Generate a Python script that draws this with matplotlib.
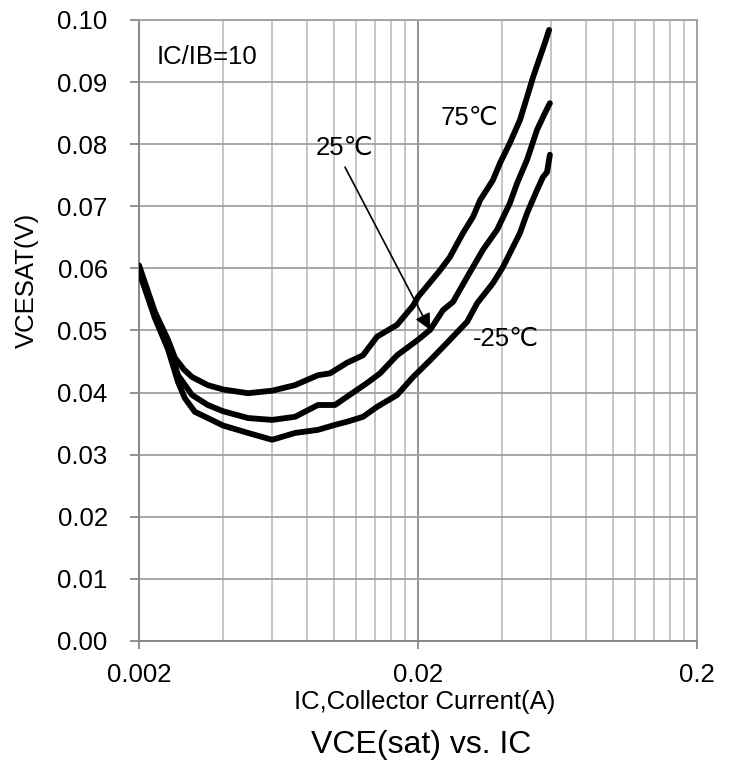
import matplotlib
matplotlib.use("Agg")
import matplotlib.pyplot as plt
from matplotlib.ticker import FixedLocator, FixedFormatter, NullFormatter

plt.rcParams['font.family'] = ['Liberation Sans', 'DejaVu Sans']

# VCE(sat) vs IC, IC/IB = 10
ic_75 = [0.002, 0.00228, 0.00254, 0.00269, 0.0029, 0.0031, 0.00353, 0.004, 0.00492, 0.006,
         0.00725, 0.00876, 0.00968, 0.01113, 0.0127, 0.01426, 0.01682, 0.0192, 0.02, 0.024,
         0.026, 0.029, 0.0315, 0.0334, 0.0371, 0.0394, 0.0427, 0.0464, 0.0492, 0.0517,
         0.0547, 0.057, 0.059]
vce_75 = [0.0605, 0.0530, 0.0485, 0.0456, 0.0437, 0.0425, 0.0412, 0.0405, 0.0399, 0.0403,
          0.0412, 0.0428, 0.0431, 0.0448, 0.0460, 0.0490, 0.0509, 0.0540, 0.0554, 0.0597,
          0.0618, 0.0657, 0.0683, 0.0710, 0.0742, 0.0770, 0.0802, 0.0839, 0.0876, 0.0908,
          0.0940, 0.0963, 0.0984]

ic_25 = [0.002, 0.00228, 0.00254, 0.00276, 0.0031, 0.00353, 0.004, 0.00492, 0.006, 0.00725,
         0.00876, 0.01008, 0.0117, 0.0131, 0.01462, 0.01682, 0.02, 0.0221, 0.0246, 0.0267,
         0.03, 0.0342, 0.0384, 0.0427, 0.0453, 0.0492, 0.0534, 0.057, 0.0594]
vce_25 = [0.0600, 0.0525, 0.0478, 0.0428, 0.0396, 0.0380, 0.0370, 0.0359, 0.0356, 0.0361,
          0.0380, 0.0380, 0.0400, 0.0415, 0.0431, 0.0460, 0.0485, 0.0501, 0.0533, 0.0546,
          0.0586, 0.0630, 0.0662, 0.0705, 0.0737, 0.0775, 0.0823, 0.0850, 0.0866]

ic_m25 = [0.002, 0.00228, 0.00254, 0.00276, 0.00292, 0.00317, 0.00353, 0.004, 0.00492, 0.006,
          0.00725, 0.00876, 0.01008, 0.01113, 0.0127, 0.01426, 0.01682, 0.0192, 0.0221, 0.0254,
          0.03, 0.0326, 0.0371, 0.0403, 0.0464, 0.0492, 0.0534, 0.0561, 0.058, 0.0594]
vce_m25 = [0.0595, 0.0520, 0.0470, 0.0417, 0.0391, 0.0369, 0.0359, 0.0347, 0.0335, 0.0324,
           0.0335, 0.0340, 0.0348, 0.0353, 0.0361, 0.0377, 0.0396, 0.0425, 0.0452, 0.0480,
           0.0514, 0.0544, 0.0576, 0.0602, 0.0657, 0.0689, 0.0726, 0.0747, 0.0755, 0.0783]

x_major = [0.002, 0.02, 0.2]
x_labels = ['0.002', '0.02', '0.2']
x_minor = [0.002 * k for k in range(2, 10)] + [0.02 * k for k in range(2, 10)]
y_ticks = [i / 100 for i in range(11)]

fig = plt.figure(figsize=(7.3, 7.65), dpi=100)
ax = fig.add_axes([0.1904, 0.1621, 0.7644, 0.8118])

for x, y in [(ic_75, vce_75), (ic_25, vce_25), (ic_m25, vce_m25)]:
    ax.plot(x, y, color='black', lw=4.2, solid_capstyle='round', solid_joinstyle='round', zorder=3)

ax.set_xscale('log')
ax.set_xlim(0.002, 0.2)
ax.set_ylim(0, 0.10)

ax.xaxis.set_major_locator(FixedLocator(x_major))
ax.xaxis.set_major_formatter(FixedFormatter(x_labels))
ax.xaxis.set_minor_locator(FixedLocator(x_minor))
ax.xaxis.set_minor_formatter(NullFormatter())
ax.set_yticks(y_ticks)
ax.set_yticklabels(['%.2f' % v for v in y_ticks])

ax.grid(True, which='major', axis='y', color='#a0a0a0', lw=1.3)
ax.grid(True, which='major', axis='x', color='#8c8c8c', lw=1.3)
ax.grid(True, which='minor', axis='x', color='#c0c0c0', lw=1.3)
ax.set_axisbelow(True)

for s in ['left', 'bottom']:
    ax.spines[s].set_color('#888888')
    ax.spines[s].set_linewidth(1.4)
for s in ['top', 'right']:
    ax.spines[s].set_color('#a0a0a0')
    ax.spines[s].set_linewidth(1.3)

ax.tick_params(axis='y', which='major', length=6.5, width=1.3, color='#888888', pad=16, labelsize=18.5)
ax.tick_params(axis='x', which='major', length=6, width=1.3, color='#888888', pad=10, labelsize=18.5)
ax.tick_params(axis='x', which='minor', length=0)

ax.set_ylabel('VCESAT(V)', fontsize=18.5, va='center')
ax.yaxis.set_label_coords(-0.20, 0.58)
ax.set_xlabel('IC,Collector Current(A)', fontsize=18.5, va='center')
ax.xaxis.set_label_coords(0.5125, -0.098)

ax.text(0.00232, 0.094, 'IC/IB=10', fontsize=18.5, ha='left', va='center')
ax.text(0.0307, 0.0842, '75\u2103', fontsize=18.5, ha='center', va='center')
ax.text(0.01086, 0.0794, '25\u2103', fontsize=18.5, ha='center', va='center')
ax.text(0.0413, 0.0486, '-25\u2103', fontsize=18.5, ha='center', va='center')
ax.annotate('', xy=(0.0221, 0.0501), xytext=(0.01095, 0.0763),
            arrowprops=dict(arrowstyle='-|>', color='black', lw=1.2,
                            mutation_scale=24, shrinkA=0, shrinkB=0), zorder=4)

fig.text(421 / 730, 1 - 745 / 765, 'VCE(sat) vs. IC', fontsize=23, ha='center', va='center')

fig.savefig('out.png', dpi=100)
